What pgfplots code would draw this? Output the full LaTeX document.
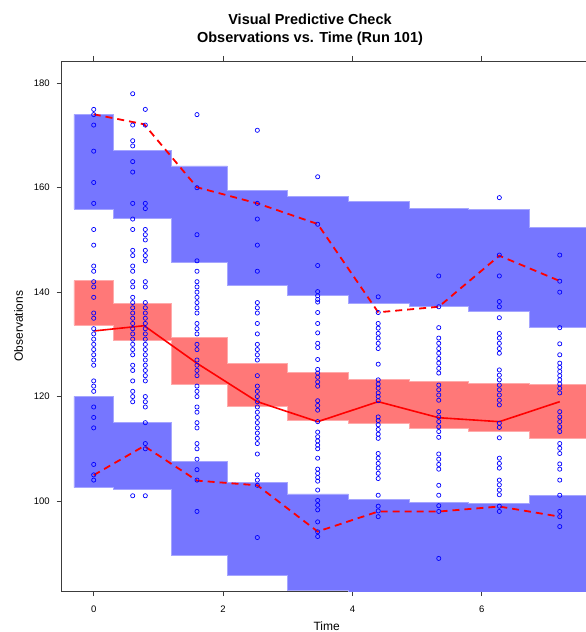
\documentclass[border=0pt]{standalone}
\usepackage{pgfplots}
\pgfplotsset{compat=1.18}
\usepackage{fontspec}
\setmainfont{Liberation Sans}
\definecolor{bandblue}{RGB}{118,118,255}
\definecolor{bandblueedge}{RGB}{165,165,255}
\definecolor{bandred}{RGB}{255,120,120}
\definecolor{bandrededge}{RGB}{255,170,170}
\definecolor{axisgray}{RGB}{60,60,60}
\begin{document}
\begin{tikzpicture}
\useasboundingbox (-61.7pt,-41pt) rectangle (524.3pt,591pt);
\begin{axis}[
  at={(0pt,0pt)}, anchor=south west,
  width=530pt, height=530pt, scale only axis,
  xmin=-0.495, xmax=7.7, ymin=82.76, ymax=184.27,
  xtick={0,2,4,6}, ytick={100,120,140,160,180},
  tick align=outside, xtick pos=both, ytick pos=left,
  xticklabel pos=lower,
  major tick length=5pt,
  axis line style={axisgray, line width=0.9pt},
  tick style={axisgray, line width=0.9pt},
  every tick label/.append style={font=\fontsize{9.5}{11}\selectfont, text=black},
  xticklabel style={yshift=-6pt},
  yticklabel style={xshift=-3.5pt},
  /pgf/number format/assume math mode=true,
  xlabel={Time}, ylabel={Observations},
  every axis x label/.style={at={(axis description cs:0.5,-0.0740)}, anchor=base, font=\fontsize{12}{14}\selectfont},
  every axis y label/.style={at={(axis description cs:-0.0815,0.5)}, anchor=center, rotate=90, font=\fontsize{12}{14}\selectfont},
]
% upper prediction interval band
\addplot[fill=bandblue, draw=bandblueedge, line width=0.6pt] coordinates {
(-0.305,174.06) (0.309,174.06) (0.309,167.17) (1.206,167.17) (1.206,164.16) (2.066,164.16) (2.066,159.5) (3.0,159.5) (3.0,158.41) (3.937,158.41) (3.937,157.33) (4.876,157.33) (4.876,155.99) (5.799,155.99) (5.799,155.8) (6.731,155.8) (6.731,152.34) (7.75,152.34) (7.75,133.19) (6.731,133.19) (6.731,136.39) (5.799,136.39) (5.799,137.21) (4.876,137.21) (4.876,137.86) (3.937,137.86) (3.937,139.45) (3.0,139.45) (3.0,141.31) (2.066,141.31) (2.066,145.77) (1.206,145.77) (1.206,154.14) (0.309,154.14) (0.309,155.9) (-0.305,155.9)
} --cycle;
% median band
\addplot[fill=bandred, draw=bandrededge, line width=0.6pt] coordinates {
(-0.305,142.2) (0.309,142.2) (0.309,137.79) (1.206,137.79) (1.206,131.28) (2.066,131.28) (2.066,126.37) (3.0,126.37) (3.0,124.64) (3.937,124.64) (3.937,123.3) (4.876,123.3) (4.876,122.98) (5.799,122.98) (5.799,122.54) (6.731,122.54) (6.731,122.35) (7.75,122.35) (7.75,111.93) (6.731,111.93) (6.731,113.4) (5.799,113.4) (5.799,113.92) (4.876,113.92) (4.876,114.8) (3.937,114.8) (3.937,115.45) (3.0,115.45) (3.0,118.06) (2.066,118.06) (2.066,122.41) (1.206,122.41) (1.206,130.7) (0.309,130.7) (0.309,133.7) (-0.305,133.7)
} --cycle;
% lower band
\addplot[fill=bandblue, draw=bandblueedge, line width=0.6pt] coordinates {
(-0.305,120.05) (0.309,120.05) (0.309,115.07) (1.206,115.07) (1.206,107.6) (2.066,107.6) (2.066,103.5) (3.0,103.5) (3.0,101.34) (3.937,101.34) (3.937,100.38) (4.876,100.38) (4.876,99.75) (5.799,99.75) (5.799,99.56) (6.731,99.56) (6.731,101.0) (7.75,101.0) (7.75,80) (3.937,80) (3.937,82.86) (3.0,82.86) (3.0,85.69) (2.066,85.69) (2.066,89.52) (1.206,89.52) (1.206,102.3) (0.309,102.3) (0.309,102.55) (-0.305,102.55)
} --cycle;
% observations
\addplot[only marks, mark=o, mark size=2.1pt, blue, mark options={line width=0.7pt}] table[row sep=\\] {
x y\\
0 175\\ 0 174\\ 0 172\\ 0 167\\ 0 161\\ 0 157\\ 0 152\\ 0 149\\ 0 145\\ 0 144\\ 0 142\\ 0 141\\ 0 139\\ 0 136\\ 0 135\\ 0 133\\ 0 132\\ 0 131\\ 0 130\\ 0 129\\ 0 128\\ 0 127\\ 0 126\\ 0 123\\ 0 122\\ 0 121\\ 0 118\\ 0 116\\ 0 114\\ 0 107\\ 0 105\\ 0 104\\
0.603 178\\ 0.603 172\\ 0.603 169\\ 0.603 168\\ 0.603 165\\ 0.603 163\\ 0.603 157\\ 0.603 154\\ 0.603 152\\ 0.603 148\\ 0.603 147\\ 0.603 145\\ 0.603 144\\ 0.603 142\\ 0.603 141\\ 0.603 139\\ 0.603 138\\ 0.603 137\\ 0.603 136\\ 0.603 135\\ 0.603 134\\ 0.603 133\\ 0.603 132\\ 0.603 131\\ 0.603 130\\ 0.603 129\\ 0.603 128\\ 0.603 126\\ 0.603 125\\ 0.603 123\\ 0.603 121\\ 0.603 120\\ 0.603 119\\ 0.603 101\\
0.798 175\\ 0.798 172\\ 0.798 157\\ 0.798 156\\ 0.798 152\\ 0.798 151\\ 0.798 150\\ 0.798 148\\ 0.798 147\\ 0.798 146\\ 0.798 142\\ 0.798 141\\ 0.798 138\\ 0.798 137\\ 0.798 136\\ 0.798 135\\ 0.798 134\\ 0.798 133\\ 0.798 132\\ 0.798 131\\ 0.798 130\\ 0.798 129\\ 0.798 128\\ 0.798 127\\ 0.798 126\\ 0.798 125\\ 0.798 124\\ 0.798 123\\ 0.798 120\\ 0.798 119\\ 0.798 118\\ 0.798 115\\ 0.798 111\\ 0.798 110\\ 0.798 101\\
1.597 174\\ 1.597 160\\ 1.597 151\\ 1.597 146\\ 1.597 144\\ 1.597 142\\ 1.597 141\\ 1.597 140\\ 1.597 139\\ 1.597 138\\ 1.597 137\\ 1.597 136\\ 1.597 134\\ 1.597 133\\ 1.597 132\\ 1.597 130\\ 1.597 129\\ 1.597 127\\ 1.597 126\\ 1.597 125\\ 1.597 124\\ 1.597 122\\ 1.597 121\\ 1.597 120\\ 1.597 118\\ 1.597 117\\ 1.597 115\\ 1.597 114\\ 1.597 111\\ 1.597 110\\ 1.597 108\\ 1.597 106\\ 1.597 104\\ 1.597 98\\
2.530 171\\ 2.530 157\\ 2.530 154\\ 2.530 149\\ 2.530 144\\ 2.530 138\\ 2.530 137\\ 2.530 136\\ 2.530 134\\ 2.530 132\\ 2.530 130\\ 2.530 129\\ 2.530 128\\ 2.530 127\\ 2.530 124\\ 2.530 122\\ 2.530 121\\ 2.530 120\\ 2.530 119\\ 2.530 118\\ 2.530 117\\ 2.530 116\\ 2.530 115\\ 2.530 114\\ 2.530 113\\ 2.530 112\\ 2.530 111\\ 2.530 109\\ 2.530 105\\ 2.530 104\\ 2.530 103\\ 2.530 93\\
3.463 162.1\\ 3.463 153.0\\ 3.463 145.1\\ 3.463 140.1\\ 3.463 139.3\\ 3.463 138.6\\ 3.463 138.1\\ 3.463 136.1\\ 3.463 134.0\\ 3.463 132.2\\ 3.463 130.2\\ 3.463 129.4\\ 3.463 127.1\\ 3.463 125.2\\ 3.463 124.5\\ 3.463 123.7\\ 3.463 122.8\\ 3.463 122.0\\ 3.463 119.2\\ 3.463 118.3\\ 3.463 117.4\\ 3.463 115.2\\ 3.463 113.2\\ 3.463 112.3\\ 3.463 111.5\\ 3.463 110.7\\ 3.463 110.0\\ 3.463 108.2\\ 3.463 106.1\\ 3.463 105.3\\ 3.463 104.5\\ 3.463 103.8\\ 3.463 102.1\\ 3.463 100.1\\ 3.463 99.2\\ 3.463 98.3\\ 3.463 96.0\\ 3.463 94.1\\ 3.463 93.2\\
4.399 139.1\\ 4.399 136.1\\ 4.399 134.0\\ 4.399 133.1\\ 4.399 132.1\\ 4.399 131.2\\ 4.399 130.2\\ 4.399 129.2\\ 4.399 126.2\\ 4.399 123.2\\ 4.399 122.4\\ 4.399 121.6\\ 4.399 120.7\\ 4.399 120.0\\ 4.399 119.2\\ 4.399 116.1\\ 4.399 115.4\\ 4.399 114.6\\ 4.399 113.7\\ 4.399 112.8\\ 4.399 112.0\\ 4.399 109.1\\ 4.399 108.2\\ 4.399 107.2\\ 4.399 106.3\\ 4.399 105.3\\ 4.399 104.3\\ 4.399 101.1\\ 4.399 99.0\\ 4.399 98.1\\ 4.399 97.0\\
5.335 143.1\\ 5.335 137.2\\ 5.335 133.2\\ 5.335 131.2\\ 5.335 130.2\\ 5.335 129.2\\ 5.335 128.3\\ 5.335 127.3\\ 5.335 126.4\\ 5.335 125.4\\ 5.335 124.5\\ 5.335 122.2\\ 5.335 121.3\\ 5.335 120.3\\ 5.335 119.3\\ 5.335 117.1\\ 5.335 116.1\\ 5.335 115.2\\ 5.335 114.2\\ 5.335 113.3\\ 5.335 112.2\\ 5.335 109.0\\ 5.335 108.0\\ 5.335 107.0\\ 5.335 106.1\\ 5.335 103.0\\ 5.335 101.1\\ 5.335 99.1\\ 5.335 98.0\\ 5.335 89.0\\
6.272 158.1\\ 6.272 147.1\\ 6.272 143.1\\ 6.272 138.2\\ 6.272 137.2\\ 6.272 135.1\\ 6.272 132.1\\ 6.272 131.2\\ 6.272 130.2\\ 6.272 129.2\\ 6.272 128.3\\ 6.272 125.1\\ 6.272 124.1\\ 6.272 123.2\\ 6.272 122.2\\ 6.272 121.3\\ 6.272 120.3\\ 6.272 119.3\\ 6.272 118.4\\ 6.272 114.9\\ 6.272 114.1\\ 6.272 112.1\\ 6.272 108.2\\ 6.272 107.2\\ 6.272 106.3\\ 6.272 104.0\\ 6.272 103.1\\ 6.272 102.1\\ 6.272 101.2\\ 6.272 99.0\\ 6.272 98.0\\
7.206 147.1\\ 7.206 142.1\\ 7.206 140.0\\ 7.206 133.2\\ 7.206 130.1\\ 7.206 128.0\\ 7.206 126.4\\ 7.206 125.6\\ 7.206 124.8\\ 7.206 124.0\\ 7.206 123.2\\ 7.206 122.4\\ 7.206 121.6\\ 7.206 120.7\\ 7.206 117.1\\ 7.206 116.1\\ 7.206 115.2\\ 7.206 114.2\\ 7.206 113.3\\ 7.206 111.0\\ 7.206 110.1\\ 7.206 109.1\\ 7.206 107.1\\ 7.206 106.1\\ 7.206 104.0\\ 7.206 101.1\\ 7.206 98.0\\ 7.206 97.0\\ 7.206 95.1\\
};
% observed percentiles
\addplot[red, line width=1.8pt, dash pattern=on 7pt off 5pt] coordinates {
(0,174.06) (0.78,172.15) (1.597,160.08) (2.53,157.0) (3.463,153.05) (4.399,136.14) (5.335,137.2) (6.272,146.98) (7.206,142.13)};
\addplot[red, line width=1.6pt] coordinates {
(0,132.56) (0.78,133.57) (1.597,126.37) (2.53,119.02) (3.463,115.19) (4.399,119.02) (5.335,115.95) (6.272,115.19) (7.206,119.02)};
\addplot[red, line width=1.8pt, dash pattern=on 7pt off 5pt] coordinates {
(0,104.96) (0.78,110.53) (1.597,103.9) (2.53,103.0) (3.463,94.15) (4.399,97.98) (5.335,97.98) (6.272,98.94) (7.206,97.0)};
\end{axis}
\node[anchor=base, font=\bfseries\fontsize{14.5}{17}\selectfont] at (248.3pt,566pt) {Visual Predictive Check};
\node[anchor=base, font=\bfseries\fontsize{14.5}{17}\selectfont] at (248.3pt,548pt) {Observations vs. Time (Run 101)};
\end{tikzpicture}
\end{document}
